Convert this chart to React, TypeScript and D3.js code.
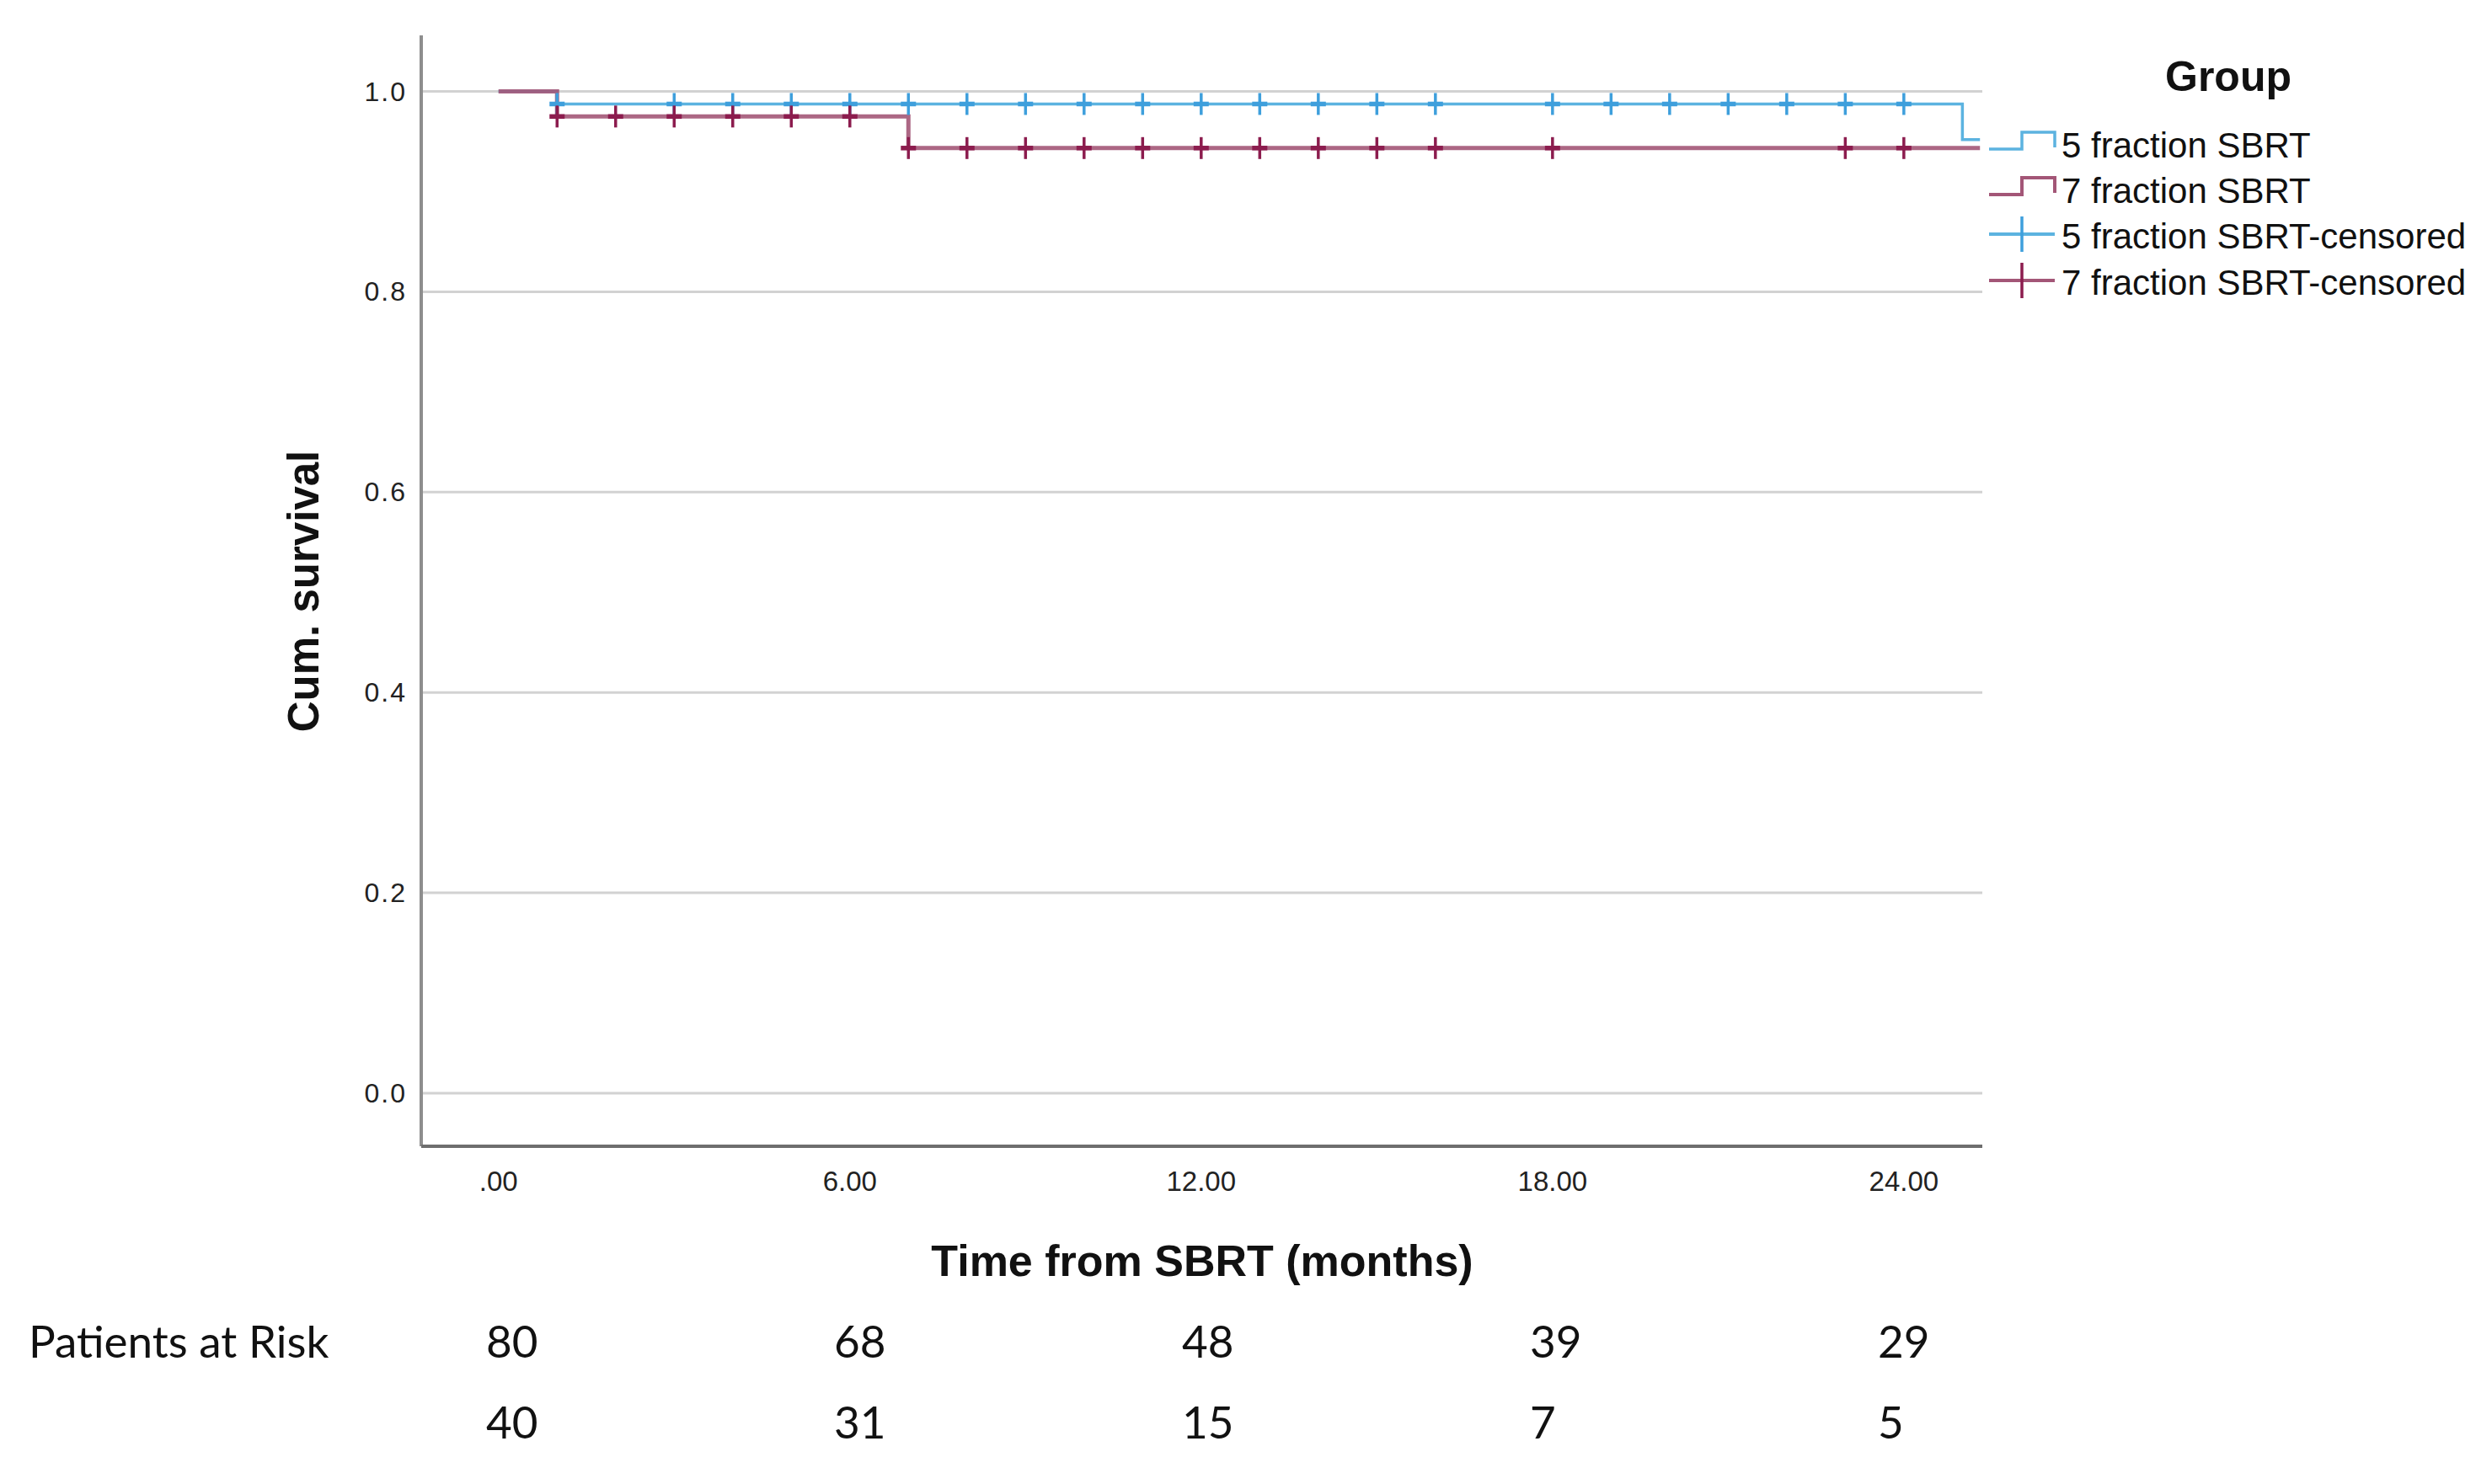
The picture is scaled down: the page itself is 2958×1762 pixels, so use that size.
import React from "react";
import * as d3 from "d3";

// ---- data ----
const groupNames = ["5 fraction SBRT", "7 fraction SBRT"];
const eventTimes5 = [0, 1, 25];
const survival5 = [1, 0.9875, 0.952];
const lastTime5 = 25.3;
const censorTimes5 = [1, 3, 4, 5, 6, 7, 8, 9, 10, 11, 12, 13, 14, 15, 16, 18, 19, 20, 21, 22, 23, 24];

const eventTimes7 = [0, 1, 7];
const survival7 = [1, 0.975, 0.9435];
const lastTime7 = 25.3;
const censorTimes7 = [1, 2, 3, 4, 5, 6, 7, 8, 9, 10, 11, 12, 13, 14, 15, 16, 18, 23, 24];

const xTicks = [0, 6, 12, 18, 24];
const xTickLabels = [".00", "6.00", "12.00", "18.00", "24.00"];
const yTicks = [0, 0.2, 0.4, 0.6, 0.8, 1.0];

const riskTimes = [0, 6, 12, 18, 24];
const risk5 = [80, 68, 48, 39, 29];
const risk7 = [40, 31, 15, 7, 5];

const legendLabels = [
  "5 fraction SBRT",
  "7 fraction SBRT",
  "5 fraction SBRT-censored",
  "7 fraction SBRT-censored",
];

// ---- styles ----
const W = 2958;
const H = 1762;
const blueLine = "#5cb3e0";
const blueMark = "#3e9fdc";
const redLine = "#a35677";
const redMark = "#8c1c4e";
const gridColor = "#d2d2d2";
const axisColor = "#8e8e8e";
const arial = "Liberation Sans, Arial, sans-serif";

function stepPoints(times: number[], surv: number[], last: number): [number, number][] {
  const pts: [number, number][] = times.map((t, i) => [t, surv[i]]);
  pts.push([last, surv[surv.length - 1]]);
  return pts;
}

function survAt(times: number[], surv: number[], t: number) {
  let v = surv[0];
  for (let i = 0; i < times.length; i++) if (times[i] <= t) v = surv[i];
  return v;
}

export default function App() {
  const x = d3.scaleLinear().domain([-1.32, 25.34]).range([500, 2353]);
  const y = d3.scaleLinear().domain([-0.053, 1.056]).range([1361, 42]);
  const riskX = d3.scaleLinear().domain([0, 24]).range([577, 2229]);

  const line = d3
    .line<[number, number]>()
    .x((d) => x(d[0]))
    .y((d) => y(d[1]))
    .curve(d3.curveStepAfter);

  const path5 = line(stepPoints(eventTimes5, survival5, lastTime5)) || "";
  const path7 = line(stepPoints(eventTimes7, survival7, lastTime7)) || "";

  const [x0, x1] = x.range();
  const [yb, yt] = y.range();

  const cross = (t: number, v: number, color: string, key: string) => {
    const cx = x(t);
    const cy = y(v);
    return (
      <g key={key} stroke={color} strokeWidth={3.5}>
        <line x1={cx} x2={cx} y1={cy - 13} y2={cy + 13} />
        <line x1={cx - 9} x2={cx + 9} y1={cy} y2={cy} strokeWidth={5.5} />
      </g>
    );
  };

  const legX0 = 2361;
  const legXm = 2400;
  const legX1 = 2439;
  const legRows = [170, 224, 278, 333];

  return (
    <svg
      width={W}
      height={H}
      style={{ position: "absolute", left: 0, top: 0, background: "#fff" }}
      xmlns="http://www.w3.org/2000/svg"
    >
      <rect width={W} height={H} fill="#fff" />
      {/* gridlines */}
      {yTicks.map((t) => (
        <line key={"g" + t} x1={x0} x2={x1} y1={y(t)} y2={y(t)} stroke={gridColor} strokeWidth={3} />
      ))}
      {/* axes */}
      <line x1={x0} x2={x0} y1={yt} y2={yb} stroke={axisColor} strokeWidth={4} />
      <line x1={x0} x2={x1} y1={yb} y2={yb} stroke={"#6e6e6e"} strokeWidth={4} />

      {/* y tick labels */}
      {yTicks.map((t) => (
        <text
          key={"yt" + t}
          x={483}
          y={y(t) + 11}
          textAnchor="end"
          fontFamily={arial}
          fontSize={32}
          letterSpacing={2}
          fill="#222"
        >
          {t.toFixed(1)}
        </text>
      ))}
      {/* x tick labels */}
      {xTicks.map((t, i) => (
        <text
          key={"xt" + t}
          x={x(t)}
          y={1414}
          textAnchor="middle"
          fontFamily={arial}
          fontSize={33}
          fill="#222"
        >
          {xTickLabels[i]}
        </text>
      ))}

      {/* axis titles */}
      <text
        x={1427}
        y={1515}
        textAnchor="middle"
        fontFamily={arial}
        fontWeight="bold"
        fontSize={52}
        fill="#111"
      >
        Time from SBRT (months)
      </text>
      <text
        transform={`translate(378, 702) rotate(-90)`}
        textAnchor="middle"
        fontFamily={arial}
        fontWeight="bold"
        fontSize={51}
        fill="#111"
      >
        Cum. survival
      </text>

      {/* curves */}
      <path d={path5} fill="none" stroke={blueLine} strokeWidth={3.5} />
      <path d={path7} fill="none" stroke={redLine} strokeWidth={5} strokeOpacity={0.9} />

      {/* censor marks */}
      {censorTimes5.map((t, i) => cross(t, survAt(eventTimes5, survival5, t), blueMark, "c5" + i))}
      {censorTimes7.map((t, i) => cross(t, survAt(eventTimes7, survival7, t), redMark, "c7" + i))}

      {/* legend */}
      <text
        x={2645}
        y={108}
        textAnchor="middle"
        fontFamily={arial}
        fontWeight="bold"
        fontSize={50}
        fill="#111"
      >
        Group
      </text>
      {legendLabels.map((lab, i) => {
        const yc = legRows[i];
        const col = i % 2 === 0 ? blueLine : redLine;
        const markCol = i % 2 === 0 ? blueMark : redMark;
        return (
          <g key={"leg" + i}>
            {i < 2 ? (
              <path
                d={`M${legX0},${yc + 7}H${legXm}V${yc - 13}H${legX1}V${yc + 5}`}
                fill="none"
                stroke={col}
                strokeWidth={i === 0 ? 3.5 : 4}
              />
            ) : (
              <g>
                <line x1={legX0} x2={legX1} y1={yc} y2={yc} stroke={col} strokeWidth={4} />
                <line x1={legXm} x2={legXm} y1={yc - 21} y2={yc + 21} stroke={markCol} strokeWidth={3.5} />
              </g>
            )}
            <text x={2447} y={yc + 17} fontFamily={arial} fontSize={42} fill="#111">
              {lab}
            </text>
          </g>
        );
      })}

      {/* patients at risk */}
      <text x={34} y={1612} fontFamily="Lato, sans-serif" fontSize={53} fill="#111">
        Patients at Risk
      </text>
      {riskTimes.map((t, i) => (
        <text key={"r5" + t} x={riskX(t)} y={1612} fontFamily="Lato, sans-serif" fontSize={53} fill="#111">
          {risk5[i]}
        </text>
      ))}
      {riskTimes.map((t, i) => (
        <text key={"r7" + t} x={riskX(t)} y={1708} fontFamily="Lato, sans-serif" fontSize={53} fill="#111">
          {risk7[i]}
        </text>
      ))}
    </svg>
  );
}
